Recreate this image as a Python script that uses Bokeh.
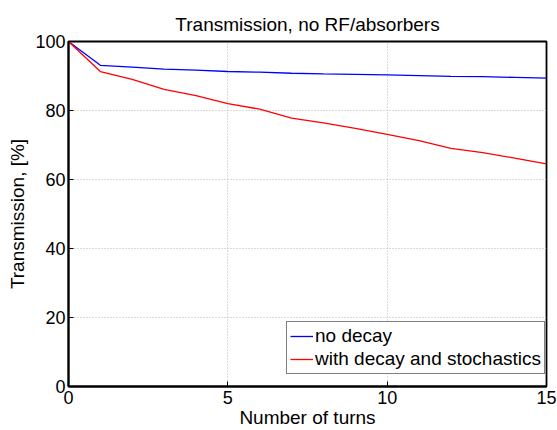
from bokeh.plotting import figure
from bokeh.models import Range1d, FixedTicker, Legend, LegendItem
from bokeh.embed import file_html
from bokeh.resources import INLINE

turns = list(range(16))
no_decay = [100, 93.1, 92.6, 92.0, 91.7, 91.3, 91.1, 90.8, 90.6, 90.5, 90.3, 90.1, 89.9, 89.8, 89.6, 89.4]
with_decay = [100, 91.3, 89.0, 86.1, 84.3, 82.0, 80.4, 77.8, 76.4, 74.8, 73.1, 71.3, 69.0, 67.8, 66.2, 64.5]
x_ticks = [0, 5, 10, 15]
y_ticks = [0, 20, 40, 60, 80, 100]

FONT = "Liberation Sans"

p = figure(width=557, height=430, output_backend="svg", toolbar_location=None,
           x_range=Range1d(0, 15), y_range=Range1d(0, 100),
           min_border_left=68, min_border_right=11, min_border_top=41, min_border_bottom=40,
           x_axis_label="Number of turns", y_axis_label="Transmission, [%]")
p.title.text = "Transmission, no RF/absorbers"
p.title.align = "center"
p.title.text_font = FONT
p.title.text_font_size = "19px"
p.title.text_font_style = "normal"
p.title.text_color = "black"
p.title.standoff = 14

p.outline_line_color = "black"
p.outline_line_width = 1.8
p.background_fill_color = "white"
p.border_fill_color = "white"

for ax, t in ((p.xaxis[0], x_ticks), (p.yaxis[0], y_ticks)):
    ax.ticker = FixedTicker(ticks=t)
    ax.minor_tick_line_color = None
    ax.major_tick_in = 5
    ax.major_tick_out = 0
    ax.major_tick_line_color = "black"
    ax.axis_line_color = "black"
    ax.axis_line_width = 2
    ax.major_label_text_font = FONT
    ax.major_label_text_font_size = "18px"
    ax.major_label_text_color = "black"
    ax.axis_label_text_font = FONT
    ax.axis_label_text_font_size = "19px"
    ax.axis_label_text_font_style = "normal"
    ax.axis_label_text_color = "black"

p.xaxis[0].major_label_standoff = 4
p.xaxis[0].axis_label_standoff = 0
p.yaxis[0].major_label_standoff = 3
p.yaxis[0].axis_label_standoff = 4

for gr, t in ((p.xgrid[0], x_ticks), (p.ygrid[0], y_ticks)):
    gr.ticker = FixedTicker(ticks=t)
    gr.grid_line_color = "#b4b4b4"
    gr.grid_line_dash = "1 2"
    gr.grid_line_width = 1

r1 = p.line(turns, no_decay, line_color="blue", line_width=1.3)
r2 = p.line(turns, with_decay, line_color="red", line_width=1.3)

legend = Legend(items=[LegendItem(label="no decay", renderers=[r1]),
                       LegendItem(label="with decay and stochastics", renderers=[r2])],
                location=(218, 12))
legend.label_text_font = FONT
legend.label_text_font_size = "19px"
legend.label_text_color = "black"
legend.glyph_width = 23
legend.glyph_height = 22
legend.label_height = 22
legend.label_standoff = 2
legend.spacing = 1
legend.padding = 3
legend.margin = 0
legend.border_line_color = "black"
legend.border_line_width = 1.5
legend.background_fill_alpha = 1
p.add_layout(legend, "center")

open("out.html", "w").write(file_html(p, INLINE))
